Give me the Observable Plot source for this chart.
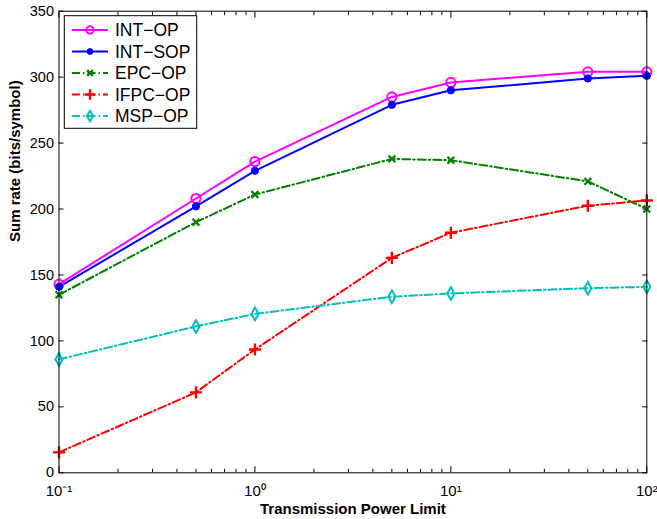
<!DOCTYPE html>
<html><head><meta charset="utf-8">
<script src="https://cdn.jsdelivr.net/npm/d3@7"></script>
<script src="https://cdn.jsdelivr.net/npm/@observablehq/plot@0.6"></script>
<style>
html,body{margin:0;padding:0;background:#fff;}
#wrap{position:relative;width:657px;height:519px;}
#wrap svg{display:block;}
#legend{position:absolute;left:0;top:0;}
</style></head><body><div id="wrap"></div>
<script>
// ---- data ----
const powers = [0.1, 0.5, 1, 5, 10, 50, 100];
const intOp  = [143, 208, 236, 285, 296, 304, 304];
const intSop = [141, 202, 229, 279, 290, 299, 301];
const epcOp  = [135, 190, 211, 238, 237, 221, 200];
const ifpcOp = [15.5, 61, 93.5, 163, 182, 202.5, 206.5];
const mspOp  = [86, 111, 120.5, 133.5, 136, 140, 141];
const seriesNames = ["INT−OP", "INT−SOP", "EPC−OP", "IFPC−OP", "MSP−OP"];
const yTicks = [0, 50, 100, 150, 200, 250, 300, 350];
const xMajor = [0.1, 1, 10, 100];
const xTickLabels = ["10⁻¹", "10⁰", "10¹", "10²"];
const xMinor = [0.2,0.3,0.4,0.5,0.6,0.7,0.8,0.9,2,3,4,5,6,7,8,9,20,30,40,50,60,70,80,90];
const xTitle = "Transmission Power Limit";
const yTitle = "Sum rate (bits/symbol)";

// ---- styles ----
const dashDot = "8,3,1.5,3";
const styles = [
  {color: "#ff00ff", dash: null, symbol: "circle", fill: "none", r: 4.6, sw: 2},
  {color: "#0000ff", dash: null, symbol: "circle", fill: "#0000ff", r: 3.6, sw: 1},
  {color: "#008000", dash: dashDot, symbol: "times", fill: "none", r: 3.2, sw: 2.2},
  {color: "#ff0000", dash: dashDot, symbol: "plus", fill: "none", r: 4, sw: 2.4},
  {color: "#00bfbf", dash: dashDot, symbol: "diamond", fill: "none", r: 3.8, sw: 2}
];
const allSeries = [intOp, intSop, epcOp, ifpcOp, mspOp];
const tables = allSeries.map((vals, s) => powers.map((p, i) => ({x: p, y: vals[i], s: seriesNames[s]})));
const labelMap = new Map(xMajor.map((d, i) => [d, xTickLabels[i]]));

const font = "'Liberation Sans', Arial, Helvetica, sans-serif";
const marks = [];
tables.forEach((t, s) => {
  const st = styles[s];
  marks.push(Plot.line(t, {x: "x", y: "y", stroke: st.color, strokeWidth: 2, strokeDasharray: st.dash}));
});
tables.forEach((t, s) => {
  const st = styles[s];
  marks.push(Plot.dot(t, {x: "x", y: "y", symbol: st.symbol, r: st.r, stroke: st.color, strokeWidth: st.sw, fill: st.fill}));
});

const chart = Plot.plot({
  width: 657, height: 519,
  marginLeft: 58.5, marginRight: 10.7, marginTop: 10.7, marginBottom: 46.7,
  style: {fontFamily: font, fontSize: "14.5px", color: "black", background: "white"},
  x: {type: "log", domain: [0.1, 100]},
  y: {domain: [0, 350]},
  marks: [
    Plot.axisY(yTicks, {anchor: "left", tickSize: 0, tickPadding: 5, label: null, fontSize: 14.5}),
    Plot.axisY(yTicks, {anchor: "left", tickSize: -5, tickFormat: () => "", label: null}),
    Plot.axisY(yTicks, {anchor: "right", tickSize: -5, tickFormat: () => "", label: null}),
    Plot.axisX(xMajor, {anchor: "bottom", tickSize: 0, tickPadding: 13, tickFormat: d => labelMap.get(d), label: null, fontSize: 15}),
    Plot.axisX(xMajor, {anchor: "bottom", tickSize: -6, tickFormat: () => "", label: null}),
    Plot.axisX(xMajor, {anchor: "top", tickSize: -6, tickFormat: () => "", label: null}),
    Plot.axisX(xMinor, {anchor: "bottom", tickSize: -3.5, tickFormat: () => "", label: null}),
    Plot.axisX(xMinor, {anchor: "top", tickSize: -3.5, tickFormat: () => "", label: null}),
    ...marks,
    Plot.frame({stroke: "black", strokeWidth: 1}),
    Plot.text([xTitle], {frameAnchor: "bottom", dy: 41, lineAnchor: "bottom", fontWeight: "bold", fontSize: 15}),
    Plot.text([yTitle], {frameAnchor: "left", dx: -44, rotate: -90, fontWeight: "bold", fontSize: 15})
  ]
});
const wrap = document.getElementById("wrap");
wrap.appendChild(chart);

// ---- legend overlay ----
const lg = d3.select(wrap).append("svg").attr("id", "legend").attr("width", 657).attr("height", 519);
const bx = 64.3, by = 15.7, bw = 132.4, bh = 112.6;
lg.append("rect").attr("x", bx).attr("y", by).attr("width", bw).attr("height", bh)
  .attr("fill", "white").attr("stroke", "black").attr("stroke-width", 1);
const symMap = {circle: d3.symbolCircle, times: d3.symbolX, plus: d3.symbolPlus, diamond: d3.symbolDiamond};
seriesNames.forEach((name, i) => {
  const st = styles[i];
  const yy = by + 14.3 + i * 21.5;
  lg.append("line").attr("x1", 72).attr("x2", 108).attr("y1", yy).attr("y2", yy)
    .attr("stroke", st.color).attr("stroke-width", 2).attr("stroke-dasharray", st.dash);
  const lr = st.symbol === "circle" ? st.r * 0.8 : st.r * 0.85;
  const sym = d3.symbol(symMap[st.symbol], Math.PI * lr * lr)();
  lg.append("path").attr("d", sym).attr("transform", `translate(90,${yy})`)
    .attr("stroke", st.color).attr("stroke-width", st.sw).attr("fill", st.fill);
  lg.append("text").attr("x", 115).attr("y", yy).attr("dominant-baseline", "central")
    .attr("font-family", font).attr("font-size", 17.5).attr("fill", "black").text(name);
});
</script></body></html>
